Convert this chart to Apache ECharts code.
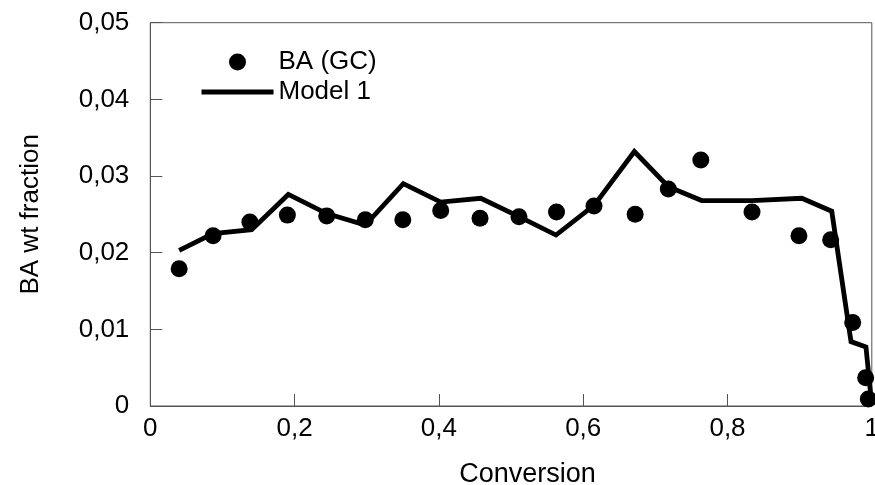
<!DOCTYPE html>
<html>
<head>
<meta charset="utf-8">
<script src="https://cdn.jsdelivr.net/npm/echarts@6/dist/echarts.min.js"></script>
<style>
  html, body { margin: 0; padding: 0; background: #fff; }
  #chart { width: 875px; height: 485px; }
</style>
</head>
<body>
<div id="chart"></div>
<script>
// Measured BA fractions (GC) against conversion
const gcConversion = [0.040, 0.087, 0.138, 0.190, 0.2445, 0.298, 0.350, 0.4025, 0.457, 0.511, 0.563,
                      0.615, 0.672, 0.718, 0.763, 0.834, 0.899, 0.943, 0.9735, 0.9915, 0.9952];
const gcFraction   = [0.0179, 0.0222, 0.0240, 0.0249, 0.0248, 0.0243, 0.0243, 0.0255, 0.0245, 0.0247, 0.0253,
                      0.0261, 0.0250, 0.0283, 0.0321, 0.0253, 0.0222, 0.0217, 0.0109, 0.0037, 0.0009];

// Model 1 prediction
const modelConversion = [0.040, 0.087, 0.1405, 0.1913, 0.2445, 0.298, 0.3507, 0.4025, 0.458, 0.511, 0.5623,
                         0.6154, 0.6709, 0.718, 0.7642, 0.834, 0.903, 0.9445, 0.9712, 0.9919, 0.999];
const modelFraction   = [0.0203, 0.0225, 0.0230, 0.0276, 0.0251, 0.0236, 0.0290, 0.0266, 0.0271, 0.0247, 0.0223,
                         0.0262, 0.0332, 0.0286, 0.0268, 0.0268, 0.0271, 0.0254, 0.0084, 0.0077, 0.0010];

const xTicks = [0, 0.2, 0.4, 0.6, 0.8, 1];
const yTicks = [0, 0.01, 0.02, 0.03, 0.04, 0.05];

const seriesNames = ['BA (GC)', 'Model 1'];
const xTitle = 'Conversion';
const yTitle = 'BA wt fraction';

const pair = (xs, ys) => xs.map((x, i) => [x, ys[i]]);
const commaNum = (v, digits) => (v === 0 ? '0' : (Math.abs(v - 1) < 1e-9 ? '1' : v.toFixed(digits).replace('.', ',')));

const FONT = 'Liberation Sans, Arial, sans-serif';
const AXIS_COLOR = '#555';

const chart = echarts.init(document.getElementById('chart'), null, { renderer: 'canvas' });
chart.setOption({
  animation: false,
  backgroundColor: '#fff',
  grid: {
    left: 150.3, right: 3.2, top: 22.7, bottom: 79,
    outerBoundsMode: 'none', containLabel: false,
    show: true, borderColor: AXIS_COLOR, borderWidth: 1, backgroundColor: 'transparent'
  },
  legend: {
    data: [
      { name: seriesNames[0], icon: 'circle', itemStyle: { color: '#000', opacity: 1 } },
      { name: seriesNames[1], itemStyle: { opacity: 0 }, lineStyle: { width: 5, color: '#000' } }
    ],
    orient: 'vertical',
    left: 199, top: 49, padding: 0,
    itemWidth: 72, itemHeight: 17, itemGap: 4,
    textStyle: { fontFamily: FONT, fontSize: 26, color: '#000', lineHeight: 26 }
  },
  xAxis: {
    type: 'value', min: 0, max: 1, interval: 0.2,
    name: xTitle, nameLocation: 'middle', nameGap: 55,
    nameTextStyle: { fontFamily: FONT, fontSize: 27, color: '#000', padding: [0, 0, 0, 33] },
    axisLine: { show: true, lineStyle: { color: AXIS_COLOR, width: 1 } },
    axisTick: { show: true, inside: true, length: 12, lineStyle: { color: AXIS_COLOR, width: 1 } },
    axisLabel: { fontFamily: FONT, fontSize: 26, color: '#000', margin: 10,
                 formatter: v => commaNum(v, 1) },
    splitLine: { show: false }
  },
  yAxis: {
    type: 'value', min: 0, max: 0.05, interval: 0.01,
    name: yTitle, nameLocation: 'middle', nameGap: 106, nameRotate: 90,
    nameTextStyle: { fontFamily: FONT, fontSize: 26, color: '#000' },
    axisLine: { show: true, lineStyle: { color: AXIS_COLOR, width: 1 } },
    axisTick: { show: true, inside: true, length: 12, lineStyle: { color: AXIS_COLOR, width: 1 } },
    axisLabel: { fontFamily: FONT, fontSize: 26, color: '#000', margin: 21,
                 formatter: v => commaNum(v, 2) },
    splitLine: { show: false }
  },
  series: [
    {
      name: seriesNames[1],
      type: 'line',
      data: pair(modelConversion, modelFraction),
      symbol: 'none',
      lineStyle: { color: '#000', width: 4.8, join: 'miter' },
      itemStyle: { color: '#000' },
      z: 2
    },
    {
      name: seriesNames[0],
      type: 'scatter',
      data: pair(gcConversion, gcFraction),
      symbol: 'circle',
      symbolSize: 17,
      itemStyle: { color: '#000', opacity: 1 },
      z: 3
    }
  ]
});
</script>
</body>
</html>
